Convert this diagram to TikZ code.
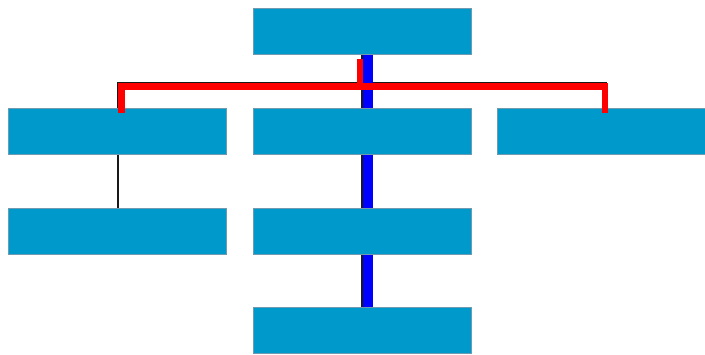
\documentclass[tikz,border=0pt]{standalone}
\usetikzlibrary{backgrounds}
\definecolor{boxfill}{RGB}{0,153,204}
\definecolor{boxline}{RGB}{110,155,175}
\definecolor{redpath}{RGB}{255,0,0}
\definecolor{bluepath}{RGB}{0,0,255}
\tikzset{
  orgbox/.style={draw=boxline, line width=1pt, fill=boxfill, inner sep=0pt, outer sep=0pt,
                 minimum width=218pt, minimum height=46pt},
  edge/.style={draw=black!90, line width=2pt},
  redline/.style={draw=redpath, line width=6.5pt, line join=miter},
  blueline/.style={draw=bluepath, line width=9.4pt},
}
\begin{document}
\begin{tikzpicture}[x=1pt, y=-1pt]
  \clip (0,0) rectangle (705,354);
  \useasboundingbox (0,0) rectangle (705,354);

  % boxes of the tree
  \node[orgbox] (top) at (362,31.5) {};
  \node[orgbox] (l2)  at (117.5,131) {};
  \node[orgbox] (m2)  at (362,131) {};
  \node[orgbox] (r2)  at (606,131) {};
  \node[orgbox] (l3)  at (117.5,231) {};
  \node[orgbox] (m3)  at (362,231) {};
  \node[orgbox] (m4)  at (362,330.5) {};

  % tree edges and the blue route, behind the boxes
  \begin{scope}[on background layer]
    \coordinate (bj) at ([shift={(0,28)}]top.south);
    \draw[edge] (top.south) -- (bj);
    \draw[edge] (l2.north) |- (bj) -| (r2.north);
    \draw[edge] (bj) -- (m2.north);
    \draw[edge] (l2) -- (l3);
    \draw[edge] (m2) -- (m3);
    \draw[edge] (m3) -- (m4);
    \draw[blueline] ([shift={(6,0)}]top.south) -- ([shift={(6,0)}]m4.north);
  \end{scope}

  % red route over the boxes
  \draw[redline] ([shift={(-2,4.5)}]top.south) -- ++(0,27.5) coordinate (rj);
  \draw[redline] ([shift={(4,5)}]l2.north) |- (rj) -| ([shift={(-1,5)}]r2.north);
\end{tikzpicture}
\end{document}
